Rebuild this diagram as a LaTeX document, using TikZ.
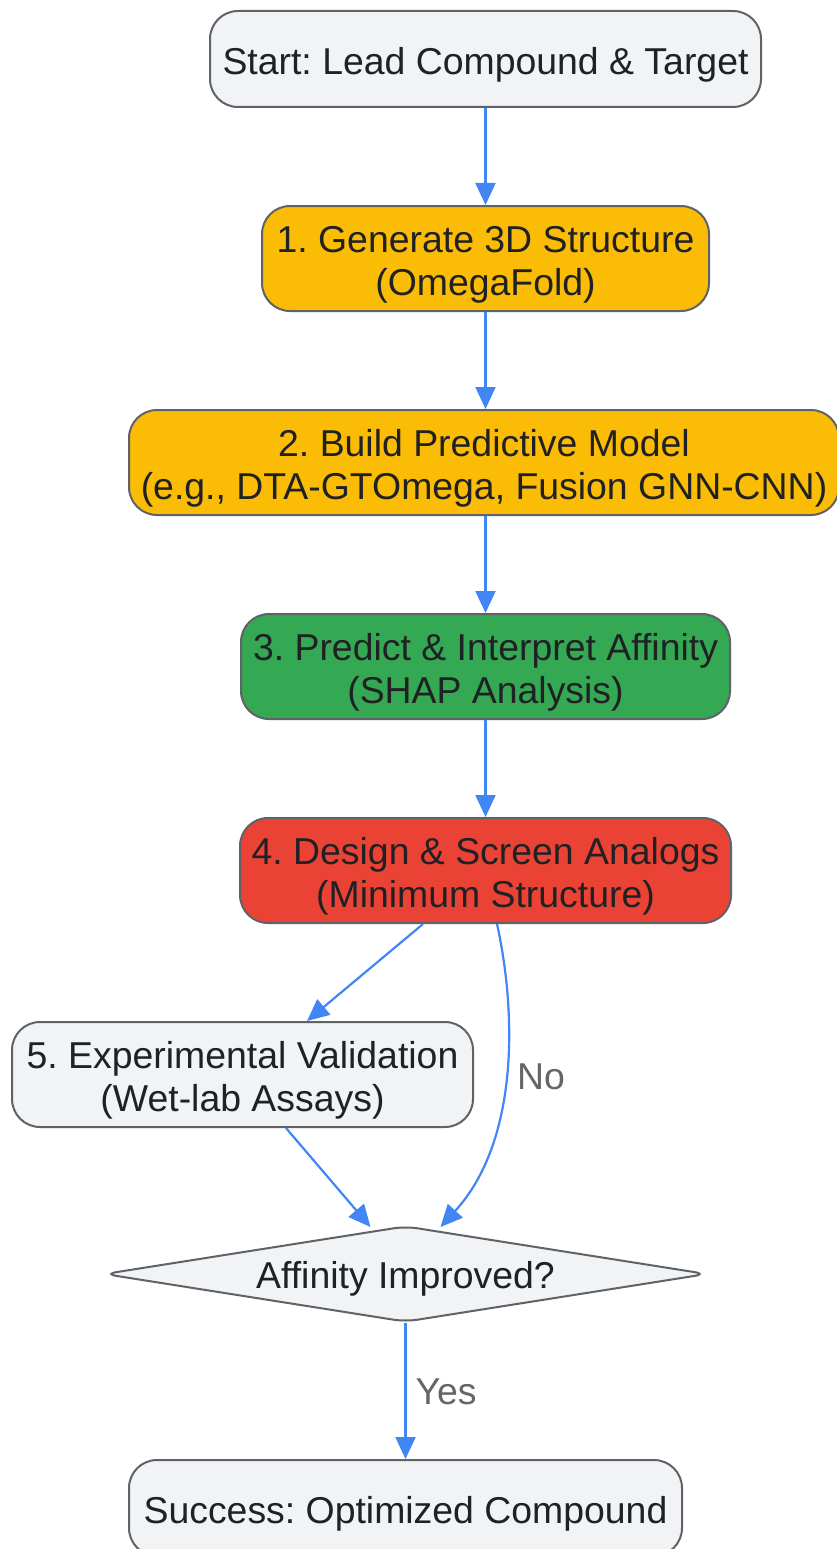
\documentclass[tikz,border=0pt]{standalone}
\usepackage{fontspec}
\setmainfont{Liberation Sans}
\frenchspacing
\usetikzlibrary{arrows.meta,shapes.geometric}
\definecolor{gfill}{HTML}{F1F3F4}
\definecolor{amber}{HTML}{FBBC05}
\definecolor{ggreen}{HTML}{34A853}
\definecolor{gred}{HTML}{EA4335}
\definecolor{gblue}{HTML}{4285F4}
\definecolor{bord}{HTML}{5F6368}
\definecolor{txt}{HTML}{202124}
\definecolor{lbl}{HTML}{666666}
\tikzset{
  box/.style={draw=bord, line width=2pt, rounded corners=28pt, fill=gfill,
    inner sep=0pt},
  btext/.style={text=txt, align=center, inner sep=0pt, yshift=-6pt,
    font=\fontsize{37.4}{43}\selectfont\frenchspacing},
  dia/.style={diamond, draw=bord, line width=2pt, fill=gfill,
    inner sep=0pt, minimum width=603pt, minimum height=96pt, aspect=6.4,
    rounded corners=12pt},
  conn/.style={draw=gblue, line width=2.2pt, -{Triangle[length=22pt,width=20pt]}},
  elabel/.style={text=lbl, font=\fontsize{37.4}{43}\selectfont, inner sep=0pt}
}
\begin{document}
\begin{tikzpicture}[x=1pt,y=-1pt]
\useasboundingbox (0,0) rectangle (836,1549);
\node[box, minimum width=551pt, minimum height=96pt,
  label={[btext]center:{Start: Lead Compound \& Target}}] (s) at (485.5,59) {};
\node[box, fill=amber, minimum width=447pt, minimum height=105pt,
  label={[btext]center:{1. Generate 3D Structure\\(OmegaFold)}}] (n1) at (485.5,258.5) {};
\node[box, fill=amber, minimum width=710pt, minimum height=105pt,
  label={[btext]center:{2. Build Predictive Model\\(e.g., DTA-GTOmega, Fusion GNN-CNN)}}] (n2) at (484,462.5) {};
\node[box, fill=ggreen, minimum width=489pt, minimum height=105pt,
  label={[btext]center:{3. Predict \& Interpret Affinity\\(SHAP Analysis)}}] (n3) at (485.5,666.5) {};
\node[box, fill=gred, minimum width=491pt, minimum height=105pt,
  label={[btext]center:{4. Design \& Screen Analogs\\(Minimum Structure)}}] (n4) at (485.5,870.5) {};
\node[box, minimum width=461pt, minimum height=105pt,
  label={[btext]center:{5. Experimental Validation\\(Wet-lab Assays)}}] (n5) at (242.5,1074.5) {};
\node[dia, label={[btext,yshift=1pt]center:{Affinity Improved?}}] (d) at (405.5,1274) {};
\node[box, minimum width=553pt, minimum height=96pt,
  label={[btext]center:{Success: Optimized Compound}}] (e) at (405.5,1508) {};

\draw[conn] (s) -- (n1);
\draw[conn] (n1) -- (n2.north -| n1.south);
\draw[conn] (n2.south -| n1.south) -- (n3);
\draw[conn] (n3) -- (n4);
\draw[conn] ([xshift=-62.5pt]n4.south) -- ([xshift=64.5pt]n5.north);
\draw[conn] ([xshift=43.5pt]n5.south) -- ([xshift=-35pt,yshift=-2pt]d.north);
\draw[conn] ([xshift=11.5pt]n4.south) .. controls (516,1010) and (520,1140) .. ([xshift=35pt,yshift=-2pt]d.north);
\node[elabel] (no) at (541,1077) {No};
\draw[conn] (d) -- (e);
\node[elabel] (yes) at (446,1392) {Yes};
\end{tikzpicture}
\end{document}
